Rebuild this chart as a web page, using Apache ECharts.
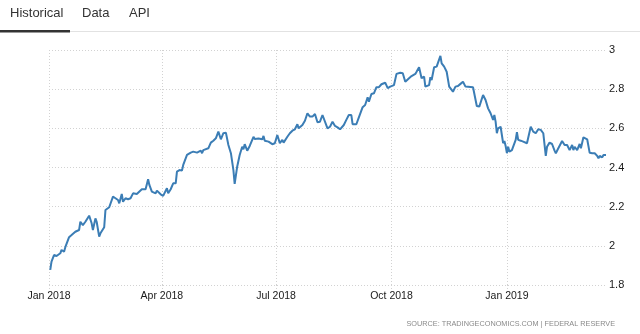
<!DOCTYPE html>
<html>
<head>
<meta charset="utf-8">
<script src="https://cdn.jsdelivr.net/npm/echarts@6/dist/echarts.min.js"></script>
<style>
html,body{margin:0;padding:0;background:#fff;}
#chart{width:640px;height:334px;}
</style>
</head>
<body>
<div id="chart"></div>
<script>
// ---- data ----
const dates = [
'2018-01-02','2018-01-03','2018-01-05','2018-01-07','2018-01-10','2018-01-11','2018-01-13','2018-01-14','2018-01-15','2018-01-17',
'2018-01-19','2018-01-22','2018-01-23','2018-01-25','2018-01-26','2018-01-28','2018-01-30','2018-02-02','2018-02-04','2018-02-05',
'2018-02-07','2018-02-08','2018-02-10','2018-02-11','2018-02-14','2018-02-15','2018-02-18','2018-02-19','2018-02-21','2018-02-23',
'2018-02-25','2018-02-26','2018-02-28','2018-03-01','2018-03-03','2018-03-05','2018-03-07','2018-03-09','2018-03-12','2018-03-13',
'2018-03-16','2018-03-19','2018-03-21','2018-03-22','2018-03-24','2018-03-27','2018-03-28','2018-03-31','2018-04-02','2018-04-05',
'2018-04-06','2018-04-08','2018-04-10','2018-04-12','2018-04-13','2018-04-15','2018-04-17','2018-04-18','2018-04-21','2018-04-24',
'2018-04-26','2018-04-29','2018-05-02','2018-05-03','2018-05-04','2018-05-05','2018-05-08','2018-05-10','2018-05-12','2018-05-14',
'2018-05-16','2018-05-18','2018-05-20','2018-05-22','2018-05-24','2018-05-26','2018-05-28','2018-05-29','2018-05-31','2018-06-02',
'2018-06-04','2018-06-05','2018-06-06','2018-06-08','2018-06-10','2018-06-13','2018-06-14','2018-06-17','2018-06-20','2018-06-21',
'2018-06-22','2018-06-25','2018-06-28','2018-06-30','2018-07-02','2018-07-04','2018-07-06','2018-07-07','2018-07-10','2018-07-12',
'2018-07-14','2018-07-16','2018-07-18','2018-07-19','2018-07-22','2018-07-24','2018-07-26','2018-07-28','2018-07-30','2018-08-01',
'2018-08-03','2018-08-05','2018-08-07','2018-08-11','2018-08-13','2018-08-15','2018-08-17','2018-08-19','2018-08-21','2018-08-24',
'2018-08-26','2018-08-28','2018-08-30','2018-08-31','2018-09-03','2018-09-05','2018-09-06','2018-09-08','2018-09-10','2018-09-12',
'2018-09-13','2018-09-15','2018-09-17','2018-09-19','2018-09-21','2018-09-23','2018-09-26','2018-09-28','2018-09-30','2018-10-03',
'2018-10-05','2018-10-08','2018-10-10','2018-10-12','2018-10-15','2018-10-17','2018-10-20','2018-10-21','2018-10-23','2018-10-25',
'2018-10-27','2018-10-28','2018-10-31','2018-11-01','2018-11-02','2018-11-04','2018-11-06','2018-11-09','2018-11-10','2018-11-12',
'2018-11-14','2018-11-16','2018-11-19','2018-11-21','2018-11-23','2018-11-25','2018-11-27','2018-11-29','2018-11-30','2018-12-05',
'2018-12-08','2018-12-10','2018-12-13','2018-12-15','2018-12-17','2018-12-19','2018-12-21','2018-12-22','2018-12-23','2018-12-24',
'2018-12-25','2018-12-27','2018-12-28','2018-12-29','2018-12-30','2018-12-31','2019-01-01','2019-01-02','2019-01-03','2019-01-05',
'2019-01-08','2019-01-09','2019-01-10','2019-01-12','2019-01-14','2019-01-17','2019-01-20','2019-01-22','2019-01-24','2019-01-25',
'2019-01-26','2019-01-28','2019-01-30','2019-02-01','2019-02-02','2019-02-04','2019-02-06','2019-02-08','2019-02-09','2019-02-11',
'2019-02-14','2019-02-16','2019-02-18','2019-02-20','2019-02-22','2019-02-23','2019-02-24','2019-02-26','2019-02-28','2019-03-01',
'2019-03-03','2019-03-04','2019-03-06','2019-03-08','2019-03-10','2019-03-11','2019-03-12','2019-03-14','2019-03-15','2019-03-16',
'2019-03-18','2019-03-19','2019-03-20','2019-03-21'
];
const values = [
1.877,1.919,1.953,1.948,1.962,1.979,1.970,1.993,1.985,2.044,
2.055,2.072,2.064,2.081,2.123,2.106,2.123,2.154,2.115,2.081,
2.140,2.123,2.047,2.064,2.095,2.183,2.197,2.203,2.251,2.243,
2.234,2.217,2.265,2.225,2.243,2.238,2.243,2.268,2.265,2.255,
2.289,2.289,2.340,2.311,2.277,2.268,2.282,2.263,2.255,2.294,
2.268,2.289,2.319,2.319,2.379,2.387,2.384,2.413,2.464,2.476,
2.481,2.476,2.486,2.473,2.489,2.495,2.498,2.527,2.537,2.549,
2.583,2.544,2.575,2.578,2.515,2.473,2.387,2.316,2.404,2.464,
2.506,2.493,2.519,2.486,2.510,2.557,2.546,2.548,2.544,2.561,
2.537,2.532,2.519,2.524,2.566,2.524,2.541,2.527,2.557,2.575,
2.588,2.595,2.621,2.600,2.617,2.639,2.677,2.660,2.660,2.673,
2.631,2.634,2.668,2.600,2.608,2.634,2.612,2.605,2.595,2.617,
2.643,2.668,2.668,2.621,2.621,2.656,2.651,2.708,2.719,2.759,
2.736,2.775,2.779,2.810,2.810,2.825,2.833,2.805,2.813,2.821,
2.878,2.884,2.881,2.838,2.856,2.867,2.878,2.889,2.912,2.856,
2.864,2.813,2.821,2.861,2.847,2.912,2.915,2.970,2.932,2.915,
2.889,2.813,2.787,2.813,2.816,2.827,2.838,2.813,2.810,2.810,
2.714,2.711,2.770,2.745,2.702,2.677,2.643,2.668,2.634,2.575,
2.600,2.608,2.566,2.524,2.535,2.510,2.473,2.506,2.481,2.489,
2.541,2.580,2.541,2.537,2.532,2.524,2.608,2.583,2.575,2.566,
2.595,2.592,2.575,2.459,2.506,2.527,2.520,2.486,2.473,2.498,
2.535,2.515,2.515,2.489,2.515,2.489,2.506,2.489,2.520,2.498,
2.554,2.549,2.544,2.475,2.473,2.464,2.473,2.459,2.447,2.459,
2.452,2.464,2.469,2.464
];
const tickDates = ['2018-01-01','2018-04-01','2018-07-01','2018-10-01','2019-01-01'];
const tickLabels = ['Jan 2018','Apr 2018','Jul 2018','Oct 2018','Jan 2019'];
const xStart = '2018-01-01';
const xEnd = '2019-03-21';
const yMin = 1.8, yMax = 3, yStep = 0.2;
const tabs = ['Historical','Data','API'];
const sourceText = 'SOURCE: TRADINGECONOMICS.COM | FEDERAL RESERVE';

// ---- build ----
function parseLocal(s){ const p = s.split('-').map(Number); return new Date(p[0], p[1]-1, p[2]).getTime(); }
const tickTs = tickDates.map(parseLocal);
const seriesData = dates.map((d,i)=>[parseLocal(d), values[i]]);

const chart = echarts.init(document.getElementById('chart'), null, {renderer:'canvas'});
const gridColor = '#d2d2d2';
const font = 'Liberation Sans, Arial, sans-serif';

chart.setOption({
  animation:false,
  backgroundColor:'#fff',
  grid:{left:49, right:34, top:50, bottom:49},
  xAxis:{
    type:'value',
    min:parseLocal(xStart), max:parseLocal(xEnd),
    axisLine:{show:false},
    axisTick:{show:true, length:4, customValues:tickTs, lineStyle:{color:gridColor, type:[1,2]}},
    axisLabel:{
      customValues:tickTs, color:'#1a1a1a', fontSize:10.5, fontFamily:font, margin:6,
      formatter:function(v){ const i = tickTs.indexOf(v); return i>=0 ? tickLabels[i] : ''; }
    },
    splitLine:{show:true, customValues:tickTs, lineStyle:{color:gridColor, type:[1,2], width:1}}
  },
  yAxis:{
    type:'value', position:'right', min:yMin, max:yMax, interval:yStep,
    axisLine:{show:false}, axisTick:{show:false},
    axisLabel:{color:'#1a1a1a', fontSize:11, fontFamily:font, margin:3,
      formatter:function(v){ return String(Math.round(v*10)/10); }},
    splitLine:{show:true, lineStyle:{color:gridColor, type:[1,2], width:1}}
  },
  series:[{
    type:'line', data:seriesData, showSymbol:false, symbol:'none',
    lineStyle:{color:'#3b7db5', width:2}, itemStyle:{color:'#3b7db5'}
  }],
  graphic:[
    {type:'rect', shape:{x:0,y:31,width:640,height:1}, style:{fill:'#e2e2e2'}, silent:true},
    {type:'rect', shape:{x:0,y:30,width:70,height:2.5}, style:{fill:'#333'}, silent:true},
    {type:'text', left:10, top:7, style:{text:tabs[0], fill:'#333', font:'13px '+font}},
    {type:'text', left:82, top:7, style:{text:tabs[1], fill:'#333', font:'13px '+font}},
    {type:'text', left:129, top:7, style:{text:tabs[2], fill:'#333', font:'13px '+font}},
    {type:'text', right:25, top:320, style:{text:sourceText, fill:'#8a8a8a', font:'7.3px '+font}}
  ]
});
</script>
</body>
</html>
